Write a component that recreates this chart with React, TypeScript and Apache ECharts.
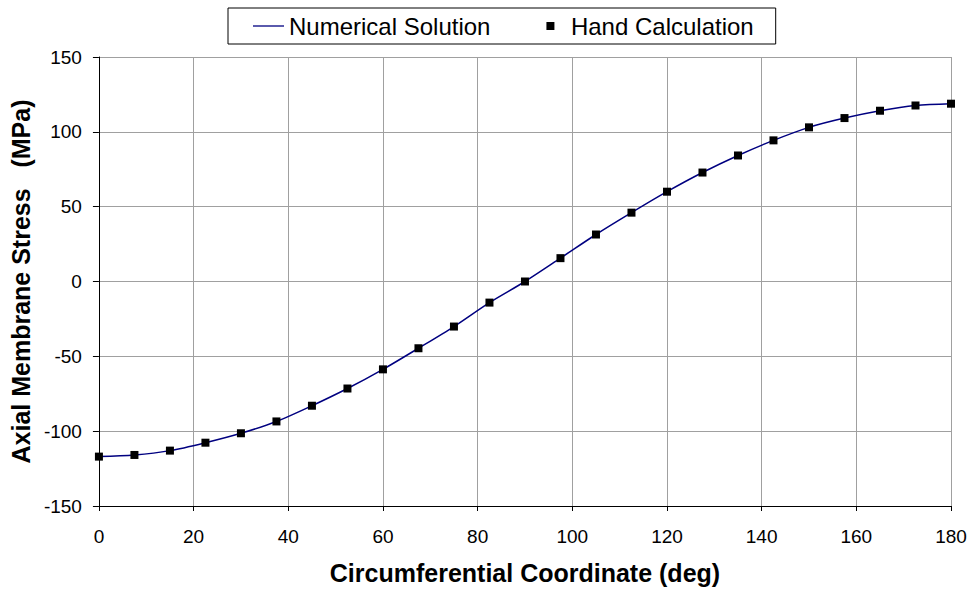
import React, { useEffect, useRef } from "react";
import * as echarts from "echarts";

const angles = [0, 7.5, 15, 22.5, 30, 37.5, 45, 52.5, 60, 67.5, 75, 82.5, 90, 97.5, 105, 112.5, 120, 127.5, 135, 142.5, 150, 157.5, 165, 172.5, 180];
const numericalStress = [-117.0, -115.9, -113.0, -107.7, -101.4, -93.5, -83.0, -71.5, -58.7, -44.6, -30.1, -14.1, 0.0, 15.6, 31.4, 46.0, 60.0, 72.8, 84.2, 94.3, 103.0, 109.2, 114.1, 117.6, 118.8];
const handStress = [-117.0, -115.9, -113.0, -107.7, -101.4, -93.5, -83.0, -71.5, -58.7, -44.6, -30.1, -14.1, 0.0, 15.6, 31.4, 46.0, 60.0, 72.8, 84.2, 94.3, 103.0, 109.2, 114.1, 117.6, 118.8];
const seriesNames = ["Numerical Solution", "Hand Calculation"];
const xTitle = "Circumferential Coordinate (deg)";
const yTitle = "Axial Membrane Stress   (MPa)";

const FONT = "'Liberation Sans', Arial, sans-serif";

export default function App() {
  const ref = useRef<HTMLDivElement>(null);
  useEffect(() => {
    document.body.style.margin = "0";
    if (!ref.current) return;
    const chart = echarts.init(ref.current, null, { renderer: "svg" });
    const numData = angles.map((a, i) => [a, numericalStress[i]]);
    const handData = angles.map((a, i) => [a, handStress[i]]);
    chart.setOption({
      animation: false,
      backgroundColor: "#ffffff",
      textStyle: { fontFamily: FONT },
      grid: { left: 98, right: 21, top: 57, bottom: 84 },
      legend: {
        left: 228,
        top: 8,
        orient: "horizontal",
        borderColor: "#000",
        borderWidth: 1,
        padding: [6, 22, 6, 25],
        itemGap: 56,
        itemWidth: 31,
        itemHeight: 8,
        textStyle: { fontSize: 24, color: "#000", fontFamily: FONT },
        data: [
          { name: seriesNames[0], icon: "path://M0,0H31V1.3H0Z" },
          { name: seriesNames[1], icon: "path://M0,0H10V10H0Z" },
        ],
      },
      xAxis: {
        type: "value",
        min: 0,
        max: 180,
        interval: 20,
        name: xTitle,
        nameLocation: "middle",
        nameGap: 54,
        nameTextStyle: { fontSize: 25, fontWeight: "bold", color: "#000", fontFamily: FONT },
        axisLine: { show: true, onZero: false, lineStyle: { color: "#000", width: 1 } },
        axisTick: { show: true, inside: false, length: 5, lineStyle: { color: "#000" } },
        axisLabel: { fontSize: 19, color: "#000", margin: 21, fontFamily: FONT },
        splitLine: { show: true, lineStyle: { color: "#a0a0a0", width: 1 } },
      },
      yAxis: {
        type: "value",
        min: -150,
        max: 150,
        interval: 50,
        name: yTitle,
        nameLocation: "middle",
        nameGap: 62,
        nameTextStyle: { fontSize: 25, fontWeight: "bold", color: "#000", fontFamily: FONT },
        axisLine: { show: true, onZero: false, lineStyle: { color: "#000", width: 1 } },
        axisTick: { show: true, inside: false, length: 6, lineStyle: { color: "#000" } },
        axisLabel: { fontSize: 19, color: "#000", margin: 17, fontFamily: FONT },
        splitLine: { show: true, lineStyle: { color: "#a0a0a0", width: 1 } },
      },
      series: [
        {
          name: seriesNames[0],
          type: "line",
          data: numData,
          smooth: 0.3,
          symbol: "none",
          lineStyle: { color: "#000080", width: 1.5 },
          itemStyle: { color: "#000080" },
          z: 2,
        },
        {
          name: seriesNames[1],
          type: "scatter",
          data: handData,
          symbol: "rect",
          symbolSize: 8,
          itemStyle: { color: "#000", opacity: 1 },
          z: 3,
        },
      ],
    });
    return () => chart.dispose();
  }, []);
  return <div ref={ref} style={{ width: 972, height: 590 }} />;
}
